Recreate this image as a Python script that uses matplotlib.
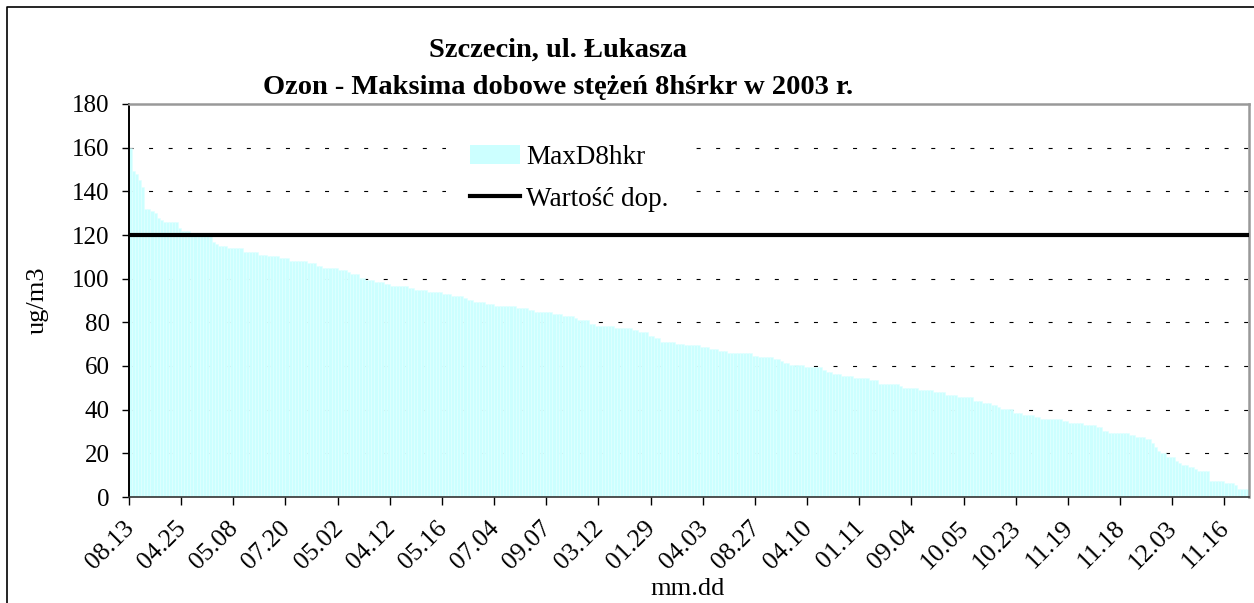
import numpy as np
import matplotlib
matplotlib.use('Agg')
import matplotlib.pyplot as plt
from matplotlib.lines import Line2D
from matplotlib.patches import Patch

plt.rcParams['font.family'] = ['Liberation Serif', 'DejaVu Serif']

# daily max of 8h running mean, sorted descending (ug/m3)
max_d8h = [
    160, 149.5, 148, 145, 142, 132, 132, 131, 130, 128, 127, 126, 126, 126, 126, 126,
    123, 122, 122, 122, 121, 121, 121, 120.5, 120.5, 120.5, 120.5, 117, 116,
    115, 115, 115, 114, 114, 114, 114, 114, 112, 112, 112, 112, 112, 111, 111, 111,
    110.5, 110.5, 110.5, 110.5, 109.6, 109.6, 109.6, 108, 108, 108, 108, 108, 108,
    107, 107, 107, 106, 106, 105, 105, 105, 105, 105, 104, 104, 104, 103, 102, 102, 102,
    100.5, 100.5, 99.4, 99.4, 99.4, 98.5, 98.5, 98.5, 97.6, 97.6,
    96.6, 96.6, 96.6, 96.6, 96.6, 96.6, 95.7, 95.7,
    94.8, 94.8, 94.8, 94.8, 93.9, 93.9, 93.9, 93.9, 93.9,
    93, 93, 93, 92, 92, 92, 92, 91.1, 90.2, 90.2,
    89.3, 89.3, 89.3, 89.3, 88.4, 88.4, 88.4,
    87.5, 87.5, 87.5, 87.5, 87.5, 87.5, 87.5, 86.6, 86.6, 86.6, 86.6,
    85.6, 85.6, 84.7, 84.7, 84.7, 84.7, 84.7, 84.7,
    83.8, 83.8, 83.8, 82.9, 82.9, 82.9, 82.9, 82,
    81.2, 81.2, 81.2, 81.2, 79.4, 79.4,
    78.5, 78.5, 78.5, 78.5, 78.5, 78.5, 77.6, 77.6, 77.6, 77.6, 77.6, 77.6,
    76.7, 76.7, 75.8, 75.8, 75.8, 73.9, 73.9, 73, 73,
    71.2, 71.2, 71.2, 71.2, 71.2, 70.3, 70.3, 70.3,
    69.4, 69.4, 69.4, 69.4, 69.4, 68.5, 68.5, 68.5,
    67.6, 67.6, 67.6, 66.7, 66.7, 66.7,
    65.8, 65.8, 65.8, 65.8, 65.8, 65.8, 65.8, 65.8, 64.8, 64.8,
    63.9, 63.9, 63.9, 63.9, 63.9, 63, 63, 62.1, 61.2, 61.2,
    60.3, 60.3, 60.3, 60.3, 60.3, 59.4, 59.4, 59.4, 59.4, 59.4, 59.4,
    58.3, 57.3, 57.3, 56.4, 56.4, 56.4,
    55.4, 55.4, 55.4, 55.4, 54.5, 54.5, 54.5, 54.5, 54.5,
    53.5, 53.5, 53.5, 51.7, 51.7, 51.7, 51.7, 51.7, 51.7, 51.7, 50.7,
    49.8, 49.8, 49.8, 49.8, 49.8, 48.8, 48.8, 48.8, 48.8, 48.8,
    47.9, 47.9, 47.9, 47.9, 46.9, 46.9, 46.9, 46.9,
    46, 46, 46, 46, 46, 44.1, 44.1, 44.1,
    43.1, 43.1, 43.1, 42.2, 42.2, 41.3, 40.3, 40.3, 40.3, 40.3,
    38.4, 38.4, 38.4, 37.6, 37.6, 37.6, 37.6, 36.6, 36.6,
    35.7, 35.7, 35.7, 35.7, 35.7, 35.7, 35.7, 34.8, 34.8,
    33.9, 33.9, 33.9, 33.9, 33.9, 33, 33, 33, 33,
    32.1, 32.1, 30.2, 30.2, 29.3, 29.3, 29.3, 29.3, 29.3, 29.3, 29.3,
    28.4, 28.4, 27.5, 27.5, 27.5, 26.6, 26.6, 24.7, 22.9, 21,
    20.2, 20.2, 18.3, 18.3, 18.3, 16.5, 15.6, 14.7, 14.7,
    13.7, 13.7, 12.8, 11.9, 11.9, 11.9, 11.9,
    7.3, 7.3, 7.3, 7.3, 7.3, 6.4, 6.4, 6.4, 5.5, 3.7, 3.7, 3.7, 3.7,
]

# dates shown under every 17th bar
tick_labels = ['08.13', '04.25', '05.08', '07.20', '05.02', '04.12', '05.16', '07.04',
               '09.07', '03.12', '01.29', '04.03', '08.27', '04.10', '01.11', '09.04',
               '10.05', '10.23', '11.19', '11.18', '12.03', '11.16']
label_step = 17
limit_value = 120

W, H = 1254, 603
fig = plt.figure(figsize=(W / 100, H / 100), dpi=100)
ax = fig.add_axes([129 / W, 1 - 497 / H, 1120 / W, 393 / H])

x = np.arange(len(max_d8h))
ax.bar(x, max_d8h, width=1.0, color='#CCFFFF', edgecolor='#E2FFFF',
       linewidth=0.4, zorder=2)
ax.axhline(limit_value, color='black', lw=3, zorder=3)

# dashed grid behind bars
for g in range(20, 180, 20):
    ax.axhline(g, color='black', lw=0.8, ls=(0, (3.6, 14)), zorder=1)

ax.set_xlim(-0.5, len(max_d8h) - 0.5)
ax.set_ylim(0, 180)
ax.set_yticks(range(0, 181, 20))
ax.tick_params(axis='y', labelsize=18, length=5, width=1, pad=9)

pos = x[::label_step][:len(tick_labels)]
ax.set_xticks(pos)
ax.set_xticklabels(tick_labels, rotation=45, ha='right', va='center',
                   rotation_mode='anchor', fontsize=18.5)
ax.tick_params(axis='x', which='major', length=0, pad=20)
ax.set_xticks(pos - 0.5, minor=True)
ax.tick_params(axis='x', which='minor', length=6, width=1)

ax.spines['left'].set_color('black')
ax.spines['left'].set_linewidth(1.4)
ax.spines['bottom'].set_color('#333333')
ax.spines['bottom'].set_linewidth(1.2)
for s in ['top', 'right']:
    ax.spines[s].set_color('#999999')
    ax.spines[s].set_linewidth(1.8)

# titles and axis names
fig.text(558 / W, 1 - 50 / H, 'Szczecin, ul. Łukasza', ha='center', va='center',
         fontsize=20.5, fontweight='bold')
fig.text(558 / W, 1 - 87 / H, 'Ozon - Maksima dobowe stężeń 8hśrkr w 2003 r.',
         ha='center', va='center', fontsize=20.5, fontweight='bold')
fig.text(38 / W, 1 - 300 / H, 'ug/m3', rotation=90, ha='center', va='center',
         fontsize=19)
fig.text(688 / W, 1 - 589 / H, 'mm.dd', ha='center', va='center', fontsize=19)

# legend sits on a white box that hides the grid, but under the limit line
handles = [Patch(facecolor='#CCFFFF', edgecolor='none'),
           Line2D([], [], color='black', lw=3)]
leg = ax.legend(handles, ['MaxD8hkr', 'Wartość dop.'], loc='upper left',
                bbox_to_anchor=(446 / W, 1 - 121 / H), bbox_transform=fig.transFigure,
                frameon=True, facecolor='white', edgecolor='none', framealpha=1,
                fancybox=False, fontsize=19.5, handlelength=1.85, handletextpad=0.2,
                labelspacing=0.6, borderpad=0.9, borderaxespad=0)
leg.set_zorder(2.5)

# outer chart frame (only left and top edges are inside the picture)
fig.add_artist(Line2D([7 / W, 7 / W, 1], [0, 1 - 7 / H, 1 - 7 / H],
                      color='black', lw=1.2, transform=fig.transFigure))

fig.savefig('out.png', dpi=100)
